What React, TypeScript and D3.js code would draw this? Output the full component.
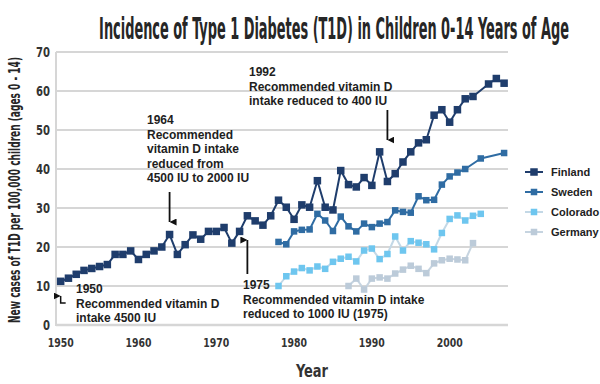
import * as React from 'react';
import * as d3 from 'd3';

// Finland (1950-2007, no 2004 point)
const finlandYears = [1950, 1951, 1952, 1953, 1954, 1955, 1956, 1957, 1958, 1959,
    1960, 1961, 1962, 1963, 1964, 1965, 1966, 1967, 1968, 1969,
    1970, 1971, 1972, 1973, 1974, 1975, 1976, 1977, 1978, 1979,
    1980, 1981, 1982, 1983, 1984, 1985, 1986, 1987, 1988, 1989,
    1990, 1991, 1992, 1993, 1994, 1995, 1996, 1997, 1998, 1999,
    2000, 2001, 2002, 2003, 2005, 2006, 2007];
const finlandValues = [11.2, 12, 13, 14, 14.5, 15, 15.5, 18.1, 18.1, 19,
    16.8, 18.1, 19, 20, 23.2, 18.1, 20.6, 23.1, 22, 24,
    24, 25, 21, 24, 28, 26.7, 25.6, 28, 32, 30.2,
    27.1, 30.8, 30.2, 37, 30.2, 29.5, 39.6, 36, 35.4, 37.8,
    35.8, 44.4, 36.8, 38.8, 41.8, 44.4, 46.7, 47.5, 53.8, 55.2,
    52, 55.2, 58, 58.6, 61.8, 63.2, 62];

const swedenYears = [1978, 1979, 1980, 1981, 1982, 1983, 1984, 1985, 1986, 1987,
    1988, 1989, 1990, 1991, 1992, 1993, 1994, 1995, 1996, 1997,
    1998, 1999, 2000, 2001, 2002, 2004, 2007];
const swedenValues = [21.3, 20.7, 24, 24.4, 24.5, 28.5, 26.8, 24.1, 27.8, 25.3,
    24, 26, 25.1, 26, 26.4, 29.4, 29, 28.8, 33, 32,
    32.1, 36, 38.1, 39.1, 40, 42.7, 44.1];

const coloradoYears = [1978, 1979, 1980, 1981, 1982, 1983, 1984, 1985, 1986, 1987,
    1988, 1989, 1990, 1991, 1992, 1993, 1994, 1995, 1996, 1997,
    1998, 1999, 2000, 2001, 2002, 2003, 2004];
const coloradoValues = [10, 12.5, 13.7, 14.6, 14, 15, 14.4, 16.2, 17, 17.5,
    16.3, 19.1, 19.6, 16.9, 18.2, 22.7, 19.1, 21.5, 21.1, 20.7,
    19.4, 23.6, 27.2, 28.1, 26.8, 28, 28.5];

const germanyYears = [1987, 1988, 1989, 1990, 1991, 1992, 1993, 1994, 1995, 1996,
    1997, 1998, 1999, 2000, 2001, 2002, 2003];
const germanyValues = [10, 11.9, 9.1, 11.9, 12.2, 11.9, 13.2, 14.2, 15.2, 14.4,
    13.3, 15.8, 16.6, 17, 16.8, 16.6, 21];

const yTicks = [0, 10, 20, 30, 40, 50, 60, 70];
const xTicks = [1950, 1960, 1970, 1980, 1990, 2000];

const titleText = 'Incidence of Type 1 Diabetes (T1D) in Children 0-14 Years of Age';
const yTitle = 'New cases of T1D per 100,000 children (ages 0 - 14)';

interface Series {
    name: string;
    years: number[];
    values: number[];
    line: string;
    marker: string;
    size: number;
}

// drawn back to front
const series: Series[] = [
    { name: 'Germany', years: germanyYears, values: germanyValues, line: '#c6d4e0', marker: '#bccbd9', size: 6.5 },
    { name: 'Colorado', years: coloradoYears, values: coloradoValues, line: '#c3d8e6', marker: '#6ec6ef', size: 6.5 },
    { name: 'Sweden', years: swedenYears, values: swedenValues, line: '#2f6ca3', marker: '#2f6ca3', size: 6.5 },
    { name: 'Finland', years: finlandYears, values: finlandValues, line: '#1f3d6c', marker: '#1f3d6c', size: 7.5 },
];

const condensed = "'DejaVu Sans Condensed', 'Liberation Sans Narrow', sans-serif";
const sans = "'Liberation Sans', Arial, sans-serif";

// text squeezed horizontally to a given width, like a condensed display face
function FitText(props: { x: number; y: number; width: number; size: number; rotate?: number; children: string }) {
    const ref = React.useRef<SVGTextElement>(null);
    const [sx, setSx] = React.useState(0.7);
    React.useLayoutEffect(() => {
        if (ref.current) {
            const w = ref.current.getComputedTextLength();
            if (w > 0) setSx(props.width / w);
        }
    }, [props.width, props.children]);
    const rot = props.rotate ? ` rotate(${props.rotate})` : '';
    return (
        <text ref={ref} transform={`translate(${props.x},${props.y})${rot} scale(${sx},1)`} textAnchor="middle"
            fontFamily={condensed} fontWeight="bold" fontSize={props.size} fill="#262626">{props.children}</text>
    );
}

export default function App() {
    const width = 600;
    const height = 384;

    const x = d3.scaleLinear().domain([1949.4, 2007.5]).range([56, 508]);
    const y = d3.scaleLinear().domain([0, 70]).range([325, 52]);

    const line = d3.line<[number, number]>()
        .x(d => x(d[0]))
        .y(d => y(d[1]));

    const legendNames = ['Finland', 'Sweden', 'Colorado', 'Germany'];

    const notes: { x: number; y: number; lines: string[] }[] = [
        { x: 249, y: 76, lines: ['1992', 'Recommended vitamin D', 'intake reduced to 400 IU'] },
        { x: 147, y: 124, lines: ['1964', 'Recommended', 'vitamin D intake', 'reduced from', '4500 IU to 2000 IU'] },
        { x: 243, y: 289, lines: ['1975', 'Recommended vitamin D intake', 'reduced to 1000 IU (1975)'] },
        { x: 76, y: 293, lines: ['1950', 'Recommended vitamin D', 'intake 4500 IU'] },
    ];

    return (
        <svg width={width} height={height} style={{ position: 'absolute', left: 0, top: 0, background: '#fff' }}>
            <defs>
                <marker id="head" viewBox="0 0 10 10" refX="5" refY="10" markerWidth="7" markerHeight="7" orient="auto-start-reverse" markerUnits="userSpaceOnUse">
                    <path d="M0,0 L10,0 L5,10 Z" fill="#111" />
                </marker>
            </defs>

            <FitText x={334} y={39} width={470} size={31}>{titleText}</FitText>

            {/* grid */}
            {yTicks.map(t => (
                <line key={t} x1={56} x2={508} y1={y(t)} y2={y(t)} stroke="#d6d6d6" strokeWidth={t === 0 ? 2.5 : 2} />
            ))}
            <line x1={56} x2={56} y1={y(70)} y2={y(0) + 1} stroke="#d6d6d6" strokeWidth={2} />

            {yTicks.map(t => (
                <text key={t} transform={`translate(50,${y(t) + 5}) scale(0.8,1)`} textAnchor="end" fontFamily={condensed} fontWeight="bold"
                    fontSize={14} fill="#333">{t}</text>
            ))}
            {xTicks.map(t => (
                <text key={t} transform={`translate(${x(t)},347) scale(0.8,1)`} textAnchor="middle" fontFamily={condensed} fontWeight="bold"
                    fontSize={13} fill="#333">{t}</text>
            ))}
            <text transform="translate(312,377) scale(0.8,1)" textAnchor="middle" fontFamily={condensed} fontWeight="bold" fontSize={18} fill="#333">Year</text>
            <FitText x={20} y={190} rotate={-90} width={266} size={15}>{yTitle}</FitText>

            {/* series */}
            {series.map(s => {
                const pts = s.years.map((yr, i) => [yr, s.values[i]] as [number, number]);
                return (
                    <g key={s.name}>
                        <path d={line(pts) || ''} fill="none" stroke={s.line} strokeWidth={2} strokeLinejoin="round" />
                        {pts.map((p, i) => (
                            <rect key={i} x={x(p[0]) - s.size / 2} y={y(p[1]) - s.size / 2} width={s.size} height={s.size} fill={s.marker} />
                        ))}
                    </g>
                );
            })}

            {/* legend */}
            {legendNames.map((n, i) => {
                const s = series.find(d => d.name === n)!;
                const ly = 172 + i * 20;
                return (
                    <g key={n}>
                        <line x1={525} x2={543} y1={ly} y2={ly} stroke={s.line} strokeWidth={2} />
                        <rect x={534 - s.size / 2} y={ly - s.size / 2} width={s.size} height={s.size} fill={s.marker} />
                        <text x={551} y={ly + 4} fontFamily={sans} fontWeight="bold" fontSize={11} fill="#222">{n}</text>
                    </g>
                );
            })}

            {/* annotations */}
            {notes.map((n, i) => (
                <text key={i} fontFamily={sans} fontWeight="bold" fontSize={12} fill="#1e1e1e">
                    {n.lines.map((l, j) => (
                        <tspan key={j} x={n.x} y={n.y + j * 14.5}>{l}</tspan>
                    ))}
                </text>
            ))}

            {/* arrows */}
            <line x1={x(1964)} x2={x(1964)} y1={192} y2={222} stroke="#111" strokeWidth={1.8} markerEnd="url(#head)" />
            <line x1={x(1974)} x2={x(1974)} y1={274} y2={240} stroke="#111" strokeWidth={1.8} markerEnd="url(#head)" />
            <line x1={x(1992)} x2={x(1992)} y1={110} y2={140} stroke="#111" strokeWidth={1.8} markerEnd="url(#head)" />
            <path d={`M${x(1950) + 5},303 L${x(1950)},303 L${x(1950)},296`} fill="none" stroke="#111" strokeWidth={1.5} markerEnd="url(#head)" />
        </svg>
    );
}
